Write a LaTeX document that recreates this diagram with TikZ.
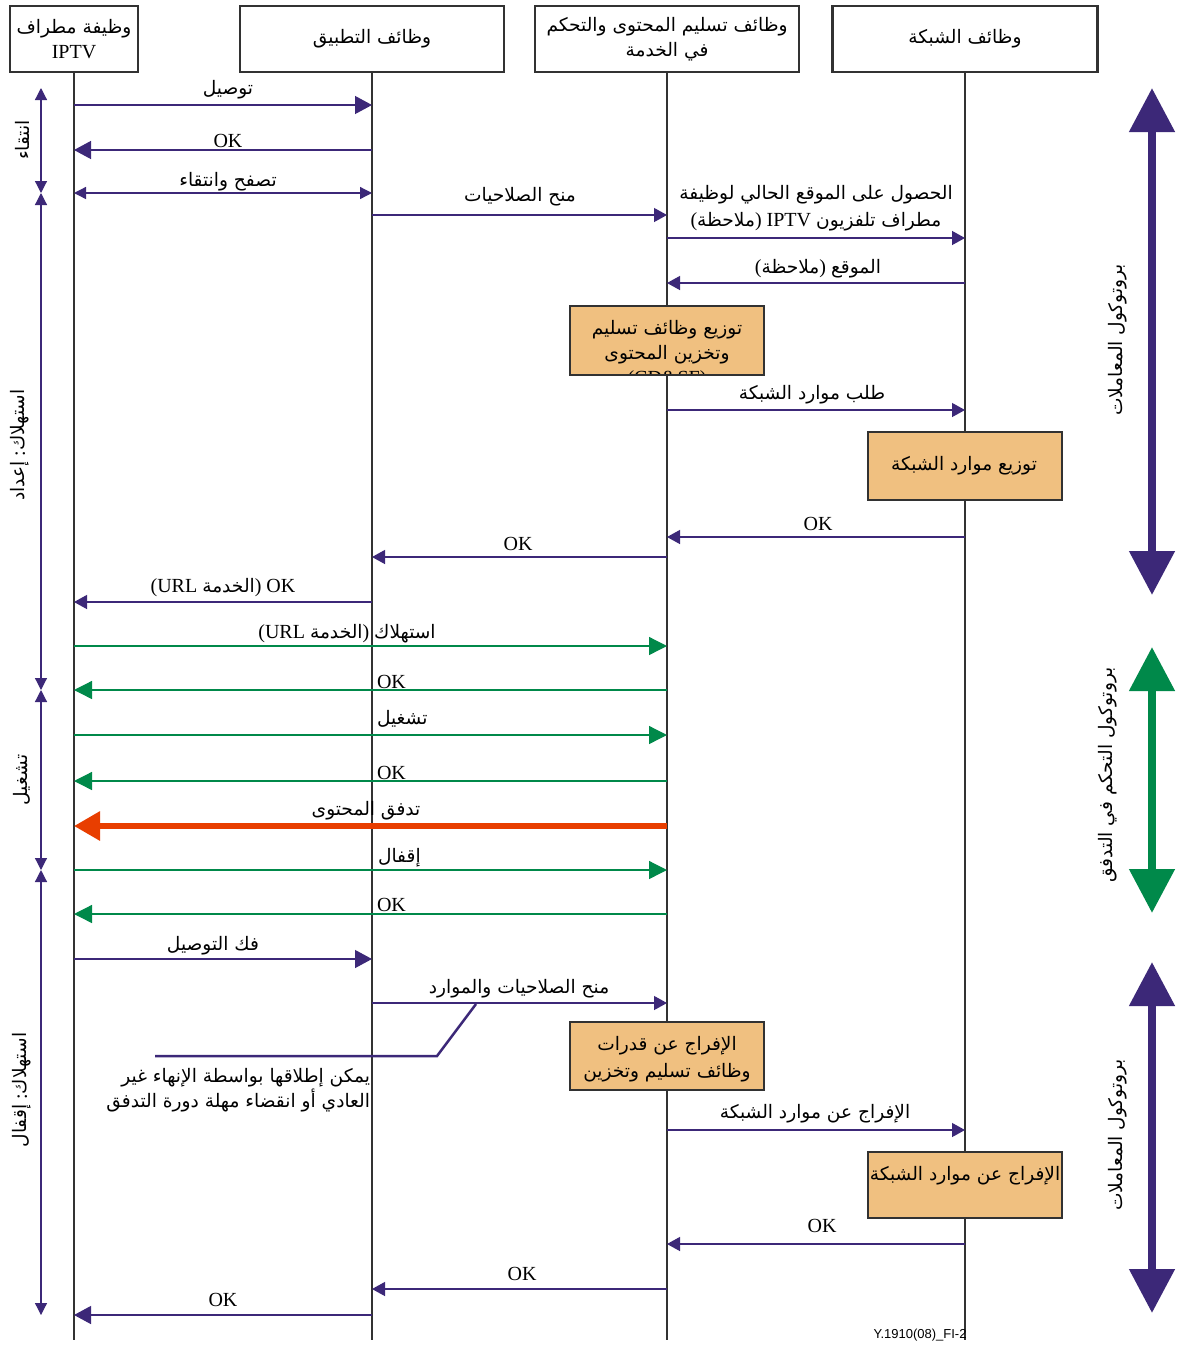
\documentclass[tikz,border=0pt]{standalone}
\usepackage{fontspec}
\setmainfont{Liberation Serif}
\newfontfamily\arfont[Script=Arabic,Scale=0.93]{DejaVu Sans}
\newfontfamily\sffont{Liberation Sans}
\TeXXeTstate=1
\newcommand{\AR}[1]{{\arfont\beginR #1\endR}}
\usetikzlibrary{arrows.meta}
\definecolor{pur}{RGB}{60,40,120}
\definecolor{grn}{RGB}{0,137,74}
\definecolor{redc}{RGB}{232,62,0}
\definecolor{org}{RGB}{240,192,128}
\definecolor{dk}{RGB}{50,50,50}
\begin{document}
\begin{tikzpicture}[x=1pt,y=-1pt,
  every node/.style={inner sep=0pt,outer sep=0pt,font=\fontsize{20}{25}\selectfont},
  hdr/.style={draw=dk,line width=2.2pt,fill=white,minimum height=66pt,align=center},
  life/.style={draw=dk,line width=2pt},
  pm/.style={draw=pur,line width=1.3pt},
  tipL/.style={-{Triangle[length=17pt,width=18pt]}},
  tipM/.style={-{Triangle[length=13pt,width=14pt]}},
  gm/.style={draw=grn,line width=1.3pt,-{Triangle[length=18pt,width=18pt]}},
  obox/.style={draw=dk,line width=2.2pt,fill=org},
  lab/.style={anchor=base},
  labw/.style={anchor=base west},
  brk/.style={draw=pur,line width=1.2pt,{Triangle[length=12pt,width=12pt]}-{Triangle[length=12pt,width=12pt]}},
  side/.style={line width=8pt,{Triangle[length=44pt,width=44pt]}-{Triangle[length=44pt,width=44pt]}},
  rlab/.style={rotate=90}
]
\useasboundingbox (0,0) rectangle (1177,1345);
\fill[white] (0,0) rectangle (1177,1345);

% headers
\node[hdr,minimum width=128pt] (h1) at (74,39) {\AR{وظيفة مطراف}\\IPTV};
\node[hdr,minimum width=264pt] (h2) at (372,39) {\AR{وظائف التطبيق}};
\node[hdr,minimum width=264pt] (h3) at (667,39) {\AR{وظائف تسليم المحتوى والتحكم}\\\AR{في الخدمة}};
\node[hdr,minimum width=265pt] (h4) at (965,39) {\AR{وظائف الشبكة}};

% lifelines
\coordinate (e1) at (h1.south |- 0,1340);
\coordinate (e2) at (h2.south |- 0,1340);
\coordinate (e3) at (h3.south |- 0,1340);
\coordinate (e4) at (h4.south |- 0,1340);
\draw[life] (h1.south) -- (e1);
\draw[life] (h2.south) -- (e2);
\draw[life] (h3.south) -- (e3);
\draw[life] (h4.south) -- (e4);

% messages
\draw[pm,tipL] (h1|-0,105) -- (h2|-0,105);
\node[lab] at (228,94) {\AR{توصيل}};
\draw[pm,tipL] (h2|-0,150) -- (h1|-0,150);
\node[lab] at (228,147) {OK};
\draw[pm,{Triangle[length=12pt,width=12pt]}-{Triangle[length=12pt,width=12pt]}] (h1|-0,193) -- (h2|-0,193);
\node[lab] at (228,186) {\AR{تصفح وانتقاء}};
\draw[pm,tipM] (h2|-0,215) -- (h3|-0,215);
\node[lab] at (520,201) {\AR{منح الصلاحيات}};
\draw[pm,tipM] (h3|-0,238) -- (h4|-0,238);
\node[lab] at (816,199) {\AR{الحصول على الموقع الحالي لوظيفة}};
\node[lab] at (816,226) {(\AR{ملاحظة}) IPTV \AR{مطراف تلفزيون}};
\draw[pm,tipM] (h4|-0,283) -- (h3|-0,283);
\node[lab] at (818,273) {(\AR{ملاحظة}) \AR{الموقع}};

\node[obox,minimum width=194pt,minimum height=69pt] (b1) at (667,340.5) {};
\begin{scope}
\clip (b1.south west) rectangle (b1.north east);
\node[lab] (b1t1) at (667,334) {\AR{توزيع وظائف تسليم}};
\node[lab] (b1t2) at (667,359) {\AR{وتخزين المحتوى}};
\node[lab] (b1t3) at (667,384) {(CD\&SF)};
\end{scope}
\draw[dk,line width=2.2pt] (b1.south west) rectangle (b1.north east);

\draw[pm,tipM] (h3|-0,410) -- (h4|-0,410);
\node[lab] at (812,399) {\AR{طلب موارد الشبكة}};
\node[obox,minimum width=194pt,minimum height=68pt] (b2) at (965,466) {};
\node[lab] at (964,470) {\AR{توزيع موارد الشبكة}};

\draw[pm,tipM] (h4|-0,537) -- (h3|-0,537);
\node[lab] at (818,530) {OK};
\draw[pm,tipM] (h3|-0,557) -- (h2|-0,557);
\node[lab] at (518,550) {OK};
\draw[pm,tipM] (h2|-0,602) -- (h1|-0,602);
\node[lab] at (223,592) {(URL \AR{الخدمة}) OK};

\draw[gm] (h1|-0,646) -- (h3|-0,646);
\node[lab] at (347,638) {(URL \AR{الخدمة}) \AR{استهلاك}};
\draw[gm] (h3|-0,690) -- (h1|-0,690);
\node[labw] at (377,688) {OK};
\draw[gm] (h1|-0,735) -- (h3|-0,735);
\node[labw] at (377,724) {\AR{تشغيل}};
\draw[gm] (h3|-0,781) -- (h1|-0,781);
\node[labw] at (377,779) {OK};
\draw[redc,line width=6pt,-{Triangle[length=26pt,width=28pt]}] (h3|-0,826) -- (h1|-0,826);
\node[lab] at (366,815) {\AR{تدفق المحتوى}};
\draw[gm] (h1|-0,870) -- (h3|-0,870);
\node[labw] at (378,862) {\AR{إقفال}};
\draw[gm] (h3|-0,914) -- (h1|-0,914);
\node[labw] at (377,911) {OK};

\draw[pm,tipL] (h1|-0,959) -- (h2|-0,959);
\node[lab] at (213,950) {\AR{فك التوصيل}};
\draw[pm,tipM] (h2|-0,1003) -- (h3|-0,1003);
\node[lab] at (519,993) {\AR{منح الصلاحيات والموارد}};
\coordinate (c1) at (476,1004);
\coordinate (c2) at (437,1056);
\coordinate (c3) at (155,1056);
\draw[pur,line width=2.5pt] (c1) -- (c2) -- (c3);
\node[anchor=base east] at (370,1082) {\AR{يمكن إطلاقها بواسطة الإنهاء غير}};
\node[anchor=base east] at (370,1107) {\AR{العادي أو انقضاء مهلة دورة التدفق}};

\node[obox,minimum width=194pt,minimum height=68pt] (b3) at (667,1056) {};
\node[lab] at (667,1050) {\AR{الإفراج عن قدرات}};
\node[lab] at (667,1077) {\AR{وظائف تسليم وتخزين}};

\draw[pm,tipM] (h3|-0,1130) -- (h4|-0,1130);
\node[lab] at (815,1118) {\AR{الإفراج عن موارد الشبكة}};
\node[obox,minimum width=194pt,minimum height=66pt] (b4) at (965,1185) {};
\node[lab] at (965,1180) {\AR{الإفراج عن موارد الشبكة}};

\draw[pm,tipM] (h4|-0,1244) -- (h3|-0,1244);
\node[lab] at (822,1232) {OK};
\draw[pm,tipM] (h3|-0,1289) -- (h2|-0,1289);
\node[lab] at (522,1280) {OK};
\draw[pm,tipL] (h2|-0,1315) -- (h1|-0,1315);
\node[lab] at (223,1306) {OK};

% left phase brackets
\coordinate (p0) at (41,88);
\coordinate (p1) at (41,193);
\coordinate (p2) at (41,690);
\coordinate (p3) at (41,870);
\coordinate (p4) at (41,1315);
\draw[brk] (p0) -- (p1);
\draw[brk] (p1) -- (p2);
\draw[brk] (p2) -- (p3);
\draw[brk] (p3) -- (p4);
\node[rlab] at (22,140) {\AR{انتقاء}};
\node[rlab] at (20,445) {\AR{إعداد} :\AR{استهلاك}};
\node[rlab] at (22,780) {\AR{تشغيل}};
\node[rlab] at (22,1090) {\AR{إقفال} :\AR{استهلاك}};

% right protocol arrows
\coordinate (r1a) at (1152,88);
\coordinate (r1b) at (1152,595);
\coordinate (r2a) at (1152,647);
\coordinate (r2b) at (1152,913);
\coordinate (r3a) at (1152,962);
\coordinate (r3b) at (1152,1313);
\draw[pur,side] (r1a) -- (r1b);
\draw[grn,side] (r2a) -- (r2b);
\draw[pur,side] (r3a) -- (r3b);
\node[rlab] at (1118,340) {\AR{بروتوكول المعاملات}};
\node[rlab] at (1108,775) {\AR{بروتوكول التحكم في التدفق}};
\node[rlab] at (1118,1135) {\AR{بروتوكول المعاملات}};

\node[anchor=base,font=\sffont\fontsize{13}{15}\selectfont] at (920,1338) {Y.1910(08)\_FI-2};
\end{tikzpicture}
\end{document}
